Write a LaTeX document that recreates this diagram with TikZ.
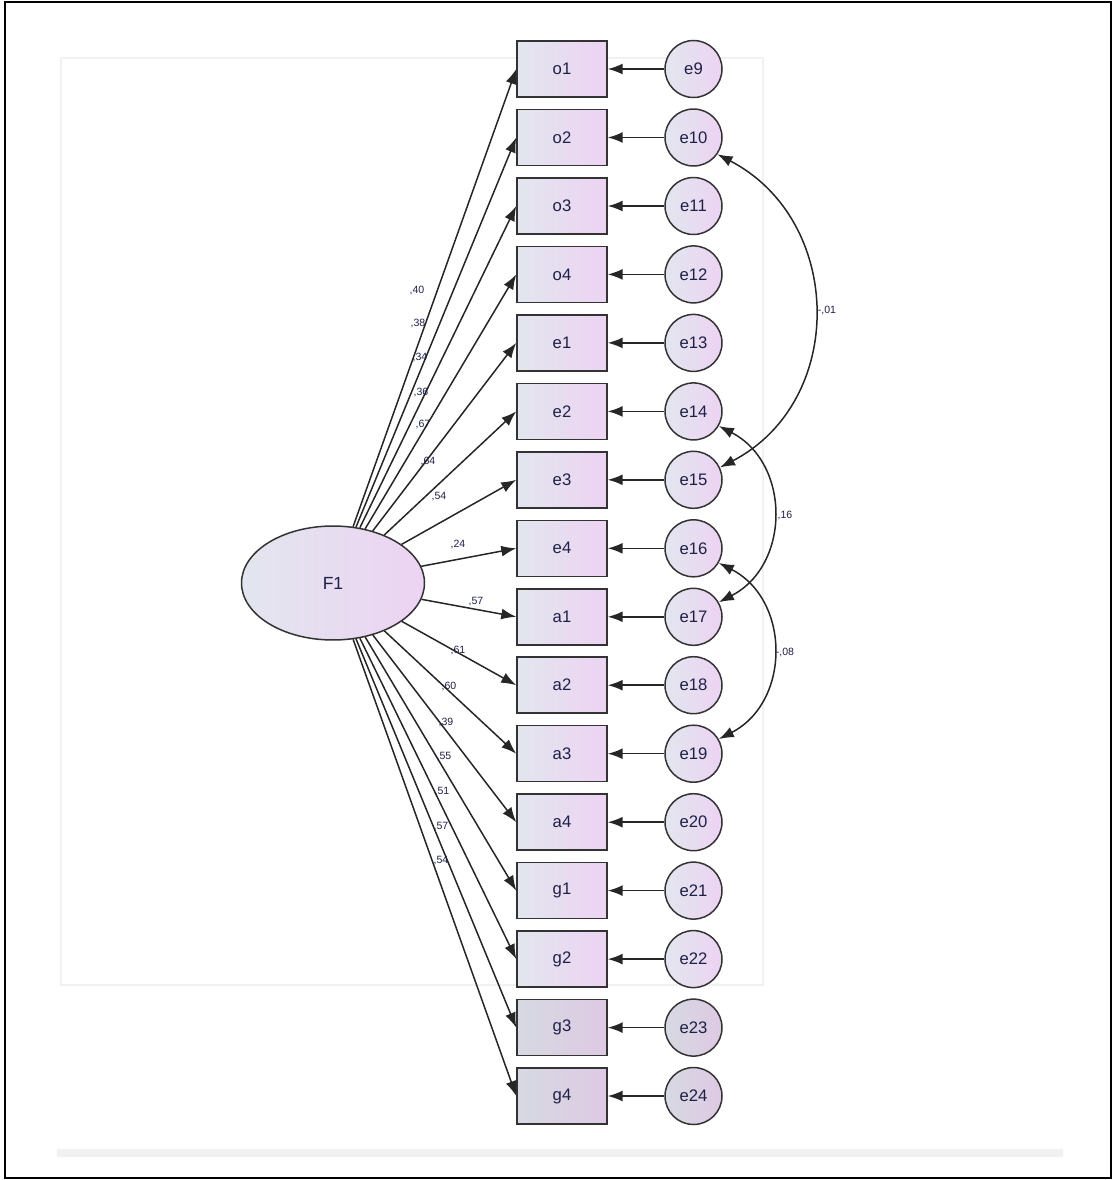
\documentclass[tikz,border=0pt]{standalone}
\usepackage{fontspec}
\setmainfont{Liberation Sans}
\usetikzlibrary{arrows.meta,shapes.geometric}
\definecolor{shadeL}{HTML}{E2E6EE}
\definecolor{shadeR}{HTML}{EDD3F3}
\definecolor{darkL}{HTML}{D6D9E2}
\definecolor{darkR}{HTML}{DEC9E3}
\definecolor{inktext}{HTML}{1E2046}
\definecolor{pagerule}{HTML}{F1F1F1}
\tikzset{
  observed/.style={rectangle, draw=black!80, line width=0.03cm, inner sep=0pt,
    minimum width=1.8cm, minimum height=1.12cm, left color=shadeL, right color=shadeR,
    text=inktext, font=\fontsize{9.5}{11}\selectfont},
  unique/.style={circle, draw=black!80, line width=0.03cm, inner sep=0pt,
    minimum size=1.14cm, left color=shadeL, right color=shadeR,
    text=inktext, font=\fontsize{9.5}{11}\selectfont},
  latent/.style={ellipse, draw=black!80, line width=0.03cm, inner sep=0pt,
    minimum width=3.66cm, minimum height=2.28cm, left color=shadeL, right color=shadeR,
    text=inktext, font=\fontsize{10}{12}\selectfont},
  darker/.style={left color=darkL, right color=darkR},
  weight/.style={inner sep=0pt, text=inktext, font=\fontsize{6}{7}\selectfont},
  path/.style={line width=0.03cm, draw=black!85, -{Latex[length=0.3cm,width=0.22cm]}},
  cov/.style={line width=0.03cm, draw=black!85, {Latex[length=0.3cm,width=0.22cm]}-{Latex[length=0.3cm,width=0.22cm]}}
}
\begin{document}
\begin{tikzpicture}[x=0.02cm,y=-0.02cm]
\useasboundingbox (0,0) rectangle (1116,1180);

% Page frame and faint panels
\draw [black, line width=0.05cm] (5,2) rectangle (1111,1178);
\draw [pagerule, line width=0.04cm] (61,58) rectangle (763,985);
\fill [pagerule] (57,1149) rectangle (1063,1157);

% Latent factor
\node [latent] (F1) at (333,583) {F1};

% Observed variables
\node [observed] (o1) at (562,69.0) {o1};
\node [observed] (o2) at (562,137.5) {o2};
\node [observed] (o3) at (562,206.0) {o3};
\node [observed] (o4) at (562,274.4) {o4};
\node [observed] (e1) at (562,342.9) {e1};
\node [observed] (e2) at (562,411.4) {e2};
\node [observed] (e3) at (562,479.8) {e3};
\node [observed] (e4) at (562,548.3) {e4};
\node [observed] (a1) at (562,616.8) {a1};
\node [observed] (a2) at (562,685.2) {a2};
\node [observed] (a3) at (562,753.7) {a3};
\node [observed] (a4) at (562,822.2) {a4};
\node [observed] (g1) at (562,890.6) {g1};
\node [observed] (g2) at (562,959.1) {g2};
\node [observed, darker] (g3) at (562,1027.6) {g3};
\node [observed, darker] (g4) at (562,1096.0) {g4};

% Error terms
\node [unique] (u9) at (693.5,69.0) {e9};
\node [unique] (u10) at (693.5,137.5) {e10};
\node [unique] (u11) at (693.5,206.0) {e11};
\node [unique] (u12) at (693.5,274.4) {e12};
\node [unique] (u13) at (693.5,342.9) {e13};
\node [unique] (u14) at (693.5,411.4) {e14};
\node [unique] (u15) at (693.5,479.8) {e15};
\node [unique] (u16) at (693.5,548.3) {e16};
\node [unique] (u17) at (693.5,616.8) {e17};
\node [unique] (u18) at (693.5,685.2) {e18};
\node [unique] (u19) at (693.5,753.7) {e19};
\node [unique] (u20) at (693.5,822.2) {e20};
\node [unique] (u21) at (693.5,890.6) {e21};
\node [unique] (u22) at (693.5,959.1) {e22};
\node [unique, darker] (u23) at (693.5,1027.6) {e23};
\node [unique, darker] (u24) at (693.5,1096.0) {e24};

% Loadings F1 -> items
\draw [path] (F1) -- (o1.west);
\draw [path] (F1) -- (o2.west);
\draw [path] (F1) -- (o3.west);
\draw [path] (F1) -- (o4.west);
\draw [path] (F1) -- (e1.west);
\draw [path] (F1) -- (e2.west);
\draw [path] (F1) -- (e3.west);
\draw [path] (F1) -- (e4.west);
\draw [path] (F1) -- (a1.west);
\draw [path] (F1) -- (a2.west);
\draw [path] (F1) -- (a3.west);
\draw [path] (F1) -- (a4.west);
\draw [path] (F1) -- (g1.west);
\draw [path] (F1) -- (g2.west);
\draw [path] (F1) -- (g3.west);
\draw [path] (F1) -- (g4.west);

% Errors -> items
\draw [path] (u9) -- (o1);
\draw [path] (u10) -- (o2);
\draw [path] (u11) -- (o3);
\draw [path] (u12) -- (o4);
\draw [path] (u13) -- (e1);
\draw [path] (u14) -- (e2);
\draw [path] (u15) -- (e3);
\draw [path] (u16) -- (e4);
\draw [path] (u17) -- (a1);
\draw [path] (u18) -- (a2);
\draw [path] (u19) -- (a3);
\draw [path] (u20) -- (a4);
\draw [path] (u21) -- (g1);
\draw [path] (u22) -- (g2);
\draw [path] (u23) -- (g3);
\draw [path] (u24) -- (g4);

% Covariances between errors
\draw [cov] (u10.-35) .. controls +(127,66) and +(127,-66) .. (u15.25);
\draw [cov] (u14.-30) .. controls +(72,37) and +(72,-37) .. (u17.30);
\draw [cov] (u16.-30) .. controls +(72,37) and +(72,-37) .. (u19.30);

% Marking loading values
\node [weight] (w1) at (417,290) {,40};
\node [weight] (w2) at (418,323) {,38};
\node [weight] (w3) at (420,357) {,34};
\node [weight] (w4) at (421,392) {,36};
\node [weight] (w5) at (423,424) {,67};
\node [weight] (w6) at (428,461) {,64};
\node [weight] (w7) at (439,497) {,54};
\node [weight] (w8) at (458,544) {,24};
\node [weight] (w9) at (476,602) {,57};
\node [weight] (w10) at (458,650) {,61};
\node [weight] (w11) at (449,686) {,60};
\node [weight] (w12) at (446,722) {,39};
\node [weight] (w13) at (444,757) {,55};
\node [weight] (w14) at (442,792) {,51};
\node [weight] (w15) at (441,827) {,57};
\node [weight] (w16) at (441,861) {,54};

% Marking covariance values
\node [weight] (c1) at (827,310) {-,01};
\node [weight] (c2) at (785,515) {,16};
\node [weight] (c3) at (785,652) {-,08};
\end{tikzpicture}
\end{document}
